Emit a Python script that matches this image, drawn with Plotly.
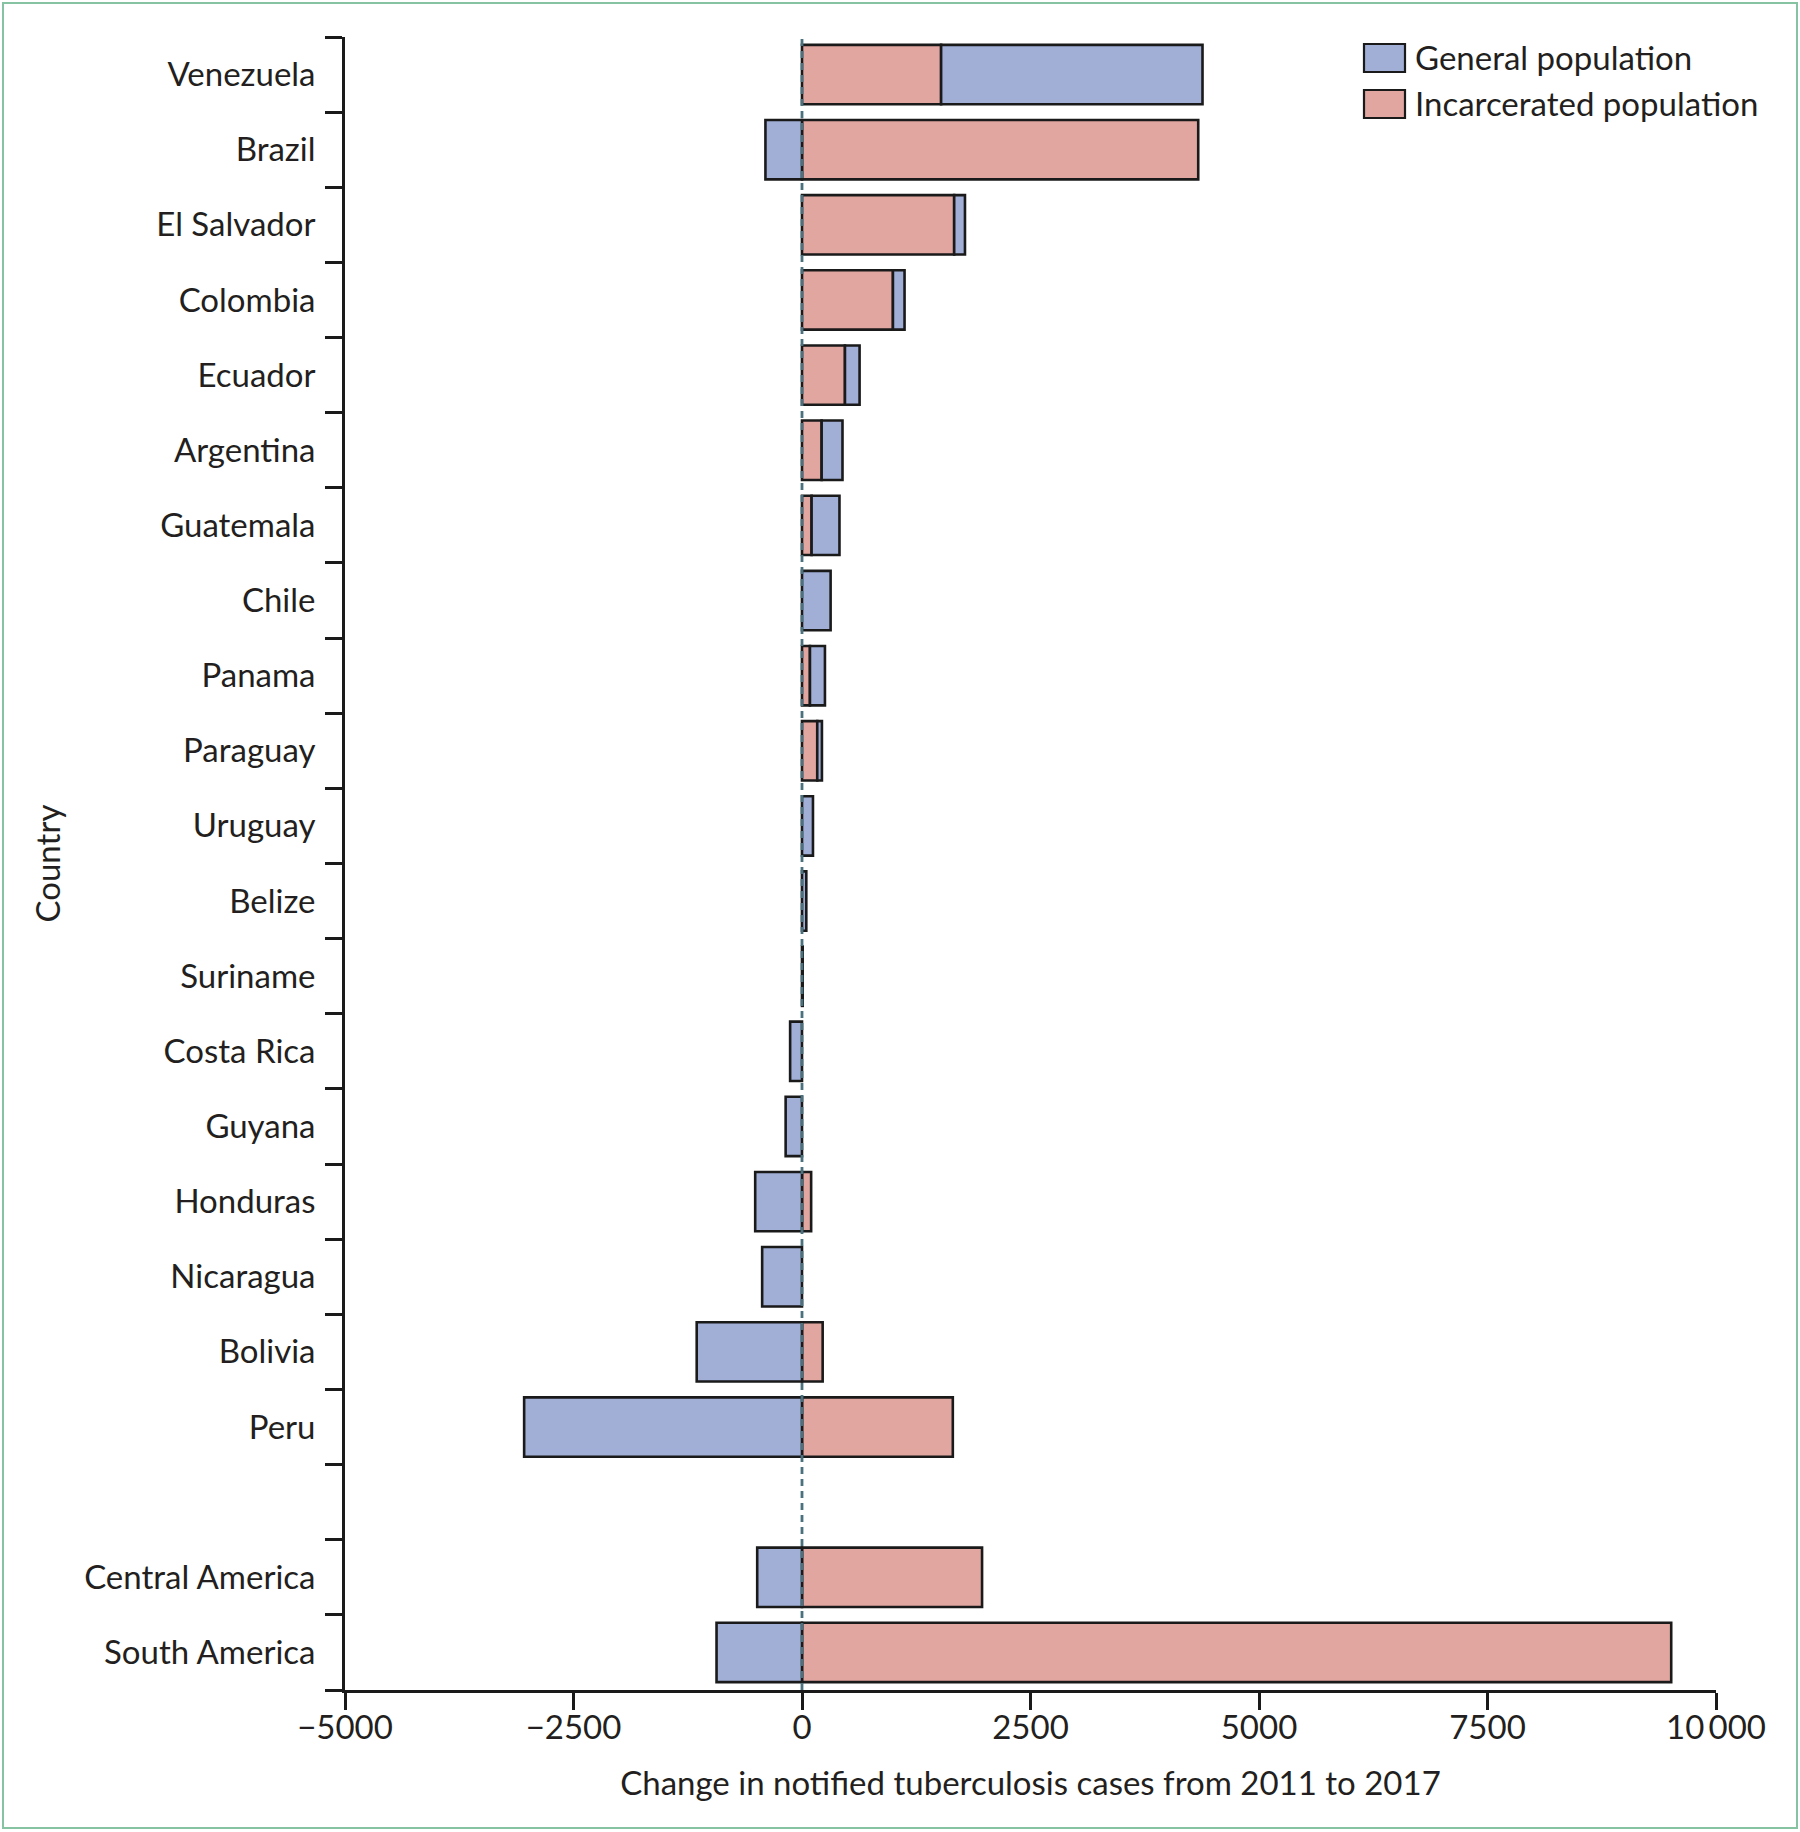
import plotly.graph_objects as go

# ---- data ----
countries = ["Venezuela", "Brazil", "El Salvador", "Colombia", "Ecuador", "Argentina",
             "Guatemala", "Chile", "Panama", "Paraguay", "Uruguay", "Belize", "Suriname",
             "Costa Rica", "Guyana", "Honduras", "Nicaragua", "Bolivia", "Peru"]
general = [2860, -400, 118, 127, 160, 228, 305, 313, 164, 51, 120, 47, 8,
           -130, -179, -512, -436, -1152, -3040]
incarcerated = [1522, 4335, 1665, 995, 470, 215, 105, 0, 87, 167, 0, 0, 0,
                0, 0, 100, 0, 226, 1650]

regions = ["Central America", "South America"]
region_general = [-490, -935]
region_incarcerated = [1970, 9510]

xticks = [-5000, -2500, 0, 2500, 5000, 7500, 10000]
xticktext = ["\u22125000", "\u22122500", "0", "2500", "5000", "7500", "10\u2009000"]

# ---- layout helpers ----
W, H = 1800, 1832
L, R, T, B = 345, 84, 37, 142
PW, PH = W - L - R, H - T - B


def px_x(p):
    return (p - L) / PW


def px_y(p):
    return (H - B - p) / PH


labels = countries + regions
ypos = list(range(len(countries))) + [len(countries) + 1 + k for k in range(len(regions))]
gen_all = general + region_general
inc_all = incarcerated + region_incarcerated
n_slots = len(countries) + 1 + len(regions)
boundaries = [k - 0.5 for k in range(n_slots + 1)]

BLUE = "#a1afd7"
PINK = "#e2a6a1"
TXT = "#231f20"
LINE = "#1a1a1a"
FONT = "Lato"
FS = 33


def nz(v):
    return [None if x == 0 else x for x in v]


fig = go.Figure()
fig.add_trace(go.Bar(
    y=ypos, x=nz(inc_all), orientation="h", name="Incarcerated population",
    marker=dict(color=PINK, line=dict(color=LINE, width=2.6)), width=0.79,
    showlegend=False))
fig.add_trace(go.Bar(
    y=ypos, x=nz(gen_all), orientation="h", name="General population",
    marker=dict(color=BLUE, line=dict(color=LINE, width=2.6)), width=0.79,
    showlegend=False))

shapes = []
# dashed zero line
shapes.append(dict(type="line", xref="x", yref="paper", x0=0, x1=0, y0=0, y1=1,
                   line=dict(color="#4a717d", width=2.8, dash="7px,5px"), layer="above"))
# outer green frame
shapes.append(dict(type="rect", xref="paper", yref="paper",
                   x0=px_x(3), x1=px_x(1797), y0=px_y(3), y1=px_y(1828),
                   line=dict(color="#86c3a3", width=2), fillcolor="rgba(0,0,0,0)",
                   layer="below"))
# manual legend boxes
leg = [("General population", BLUE, 44, 72, 57), ("Incarcerated population", PINK, 90, 118, 103)]
annotations = []
for text, col, ya, yb, yc in leg:
    shapes.append(dict(type="rect", xref="paper", yref="paper",
                       x0=px_x(1364), x1=px_x(1405), y0=px_y(yb), y1=px_y(ya),
                       line=dict(color=LINE, width=2.2), fillcolor=col, layer="above"))
    annotations.append(dict(xref="paper", yref="paper", x=px_x(1413), y=px_y(yc),
                            xanchor="left", yanchor="middle", text=text, showarrow=False,
                            font=dict(family=FONT, size=FS, color=TXT)))

fig.update_layout(
    width=W, height=H,
    margin=dict(l=L, r=R, t=T, b=B, autoexpand=False),
    plot_bgcolor="white", paper_bgcolor="white",
    barmode="relative", bargap=0.2,
    font=dict(family=FONT, color=TXT, size=FS),
    shapes=shapes, annotations=annotations,
    xaxis=dict(
        range=[-5000, 10000], tickvals=xticks, ticktext=xticktext,
        showgrid=False, zeroline=False, showline=True, linecolor=LINE, linewidth=2.8,
        ticks="outside", ticklen=17, tickwidth=2.8, tickcolor=LINE,
        ticklabelstandoff=-11,
        tickfont=dict(family=FONT, size=FS, color=TXT),
        title=dict(text="Change in notified tuberculosis cases from 2011 to 2017",
                   font=dict(family=FONT, size=FS, color=TXT), standoff=28),
    ),
    yaxis=dict(
        range=[n_slots - 0.5, -0.5], tickvals=ypos, ticktext=labels,
        showgrid=False, zeroline=False, showline=True, linecolor=LINE, linewidth=2.8,
        ticks="outside", ticklen=20, tickcolor="rgba(0,0,0,0)",
        tickfont=dict(family=FONT, size=FS, color=TXT),
        minor=dict(tickmode="array", tickvals=boundaries, ticks="outside", ticklen=17,
                   tickwidth=2.8, tickcolor=LINE, showgrid=False),
        title=dict(text="Country", font=dict(family=FONT, size=FS, color=TXT), standoff=14),
    ),
)

fig.write_html("out.html", config={"displayModeBar": False},
               post_script="document.body.style.margin='0';")
